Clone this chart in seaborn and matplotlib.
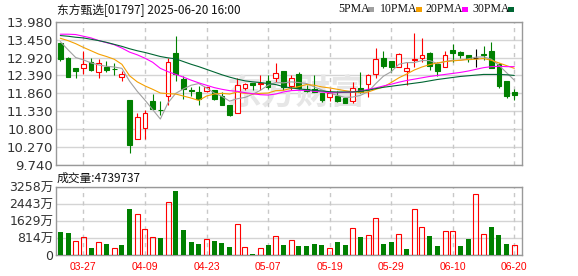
import matplotlib
matplotlib.use("Agg")
import matplotlib.pyplot as plt
from matplotlib.patches import Rectangle
import numpy as np
import pandas as pd
import seaborn as sns

# ---------------- data ----------------
opens = [13.34, 12.92, 12.60, 12.62, 12.78, 12.50, 12.65, 12.59, 12.33, 11.66,
         10.50, 10.83, 11.63, 11.38, 11.78, 13.04, 12.27, 11.95, 11.89, 11.93,
         11.96, 11.78, 11.53, 11.27, 12.01, 12.18, 12.14, 12.22, 12.30, 12.52,
         12.09, 12.43, 11.99, 11.99, 11.88, 11.76, 11.78, 11.73, 11.63, 12.01,
         12.14, 12.43, 12.92, 12.82, 12.65, 12.53, 12.85, 12.90, 13.04, 12.72,
         12.63, 13.14, 13.07, 12.99, 12.90, 13.01, 13.11, 12.72, 12.22, 11.91]
highs = [13.36, 12.93, 12.60, 13.11, 12.92, 12.88, 12.83, 12.75, 12.52, 11.66,
         11.27, 11.37, 11.84, 11.64, 12.92, 13.56, 12.38, 12.06, 12.08, 12.04,
         11.96, 11.91, 11.53, 12.30, 12.18, 12.18, 12.40, 12.40, 12.75, 12.52,
         12.40, 12.50, 12.11, 12.40, 11.88, 11.99, 11.93, 11.73, 12.20, 12.50,
         12.43, 13.19, 13.11, 12.82, 13.04, 12.78, 13.64, 13.49, 13.09, 12.80,
         13.11, 13.31, 13.11, 12.99, 13.17, 13.27, 13.39, 12.75, 12.22, 11.99]
lows = [12.83, 12.35, 12.30, 12.42, 12.52, 12.30, 12.49, 12.40, 12.24, 10.10,
        10.50, 10.52, 11.41, 11.22, 11.52, 12.24, 11.68, 11.78, 11.52, 11.91,
        11.66, 11.51, 11.19, 11.27, 11.96, 11.96, 11.96, 11.99, 12.20, 11.96,
        11.96, 11.98, 11.91, 11.89, 11.61, 11.64, 11.61, 11.58, 11.56, 11.86,
        11.74, 12.30, 12.60, 12.48, 12.63, 12.11, 12.65, 12.80, 12.55, 12.38,
        12.63, 12.80, 12.90, 12.78, 12.65, 12.85, 12.60, 12.03, 11.73, 11.66]
closes = [12.87, 12.35, 12.53, 12.72, 12.55, 12.75, 12.55, 12.58, 12.42, 10.34,
          11.17, 11.27, 11.41, 11.36, 12.78, 12.43, 11.99, 11.93, 11.69, 12.04,
          11.68, 11.53, 11.22, 12.10, 12.14, 12.12, 12.16, 12.04, 12.47, 12.04,
          12.30, 12.01, 11.93, 11.91, 11.66, 11.86, 11.64, 11.58, 12.01, 11.91,
          12.40, 12.87, 12.68, 12.65, 13.01, 12.62, 12.87, 12.99, 12.68, 12.53,
          12.99, 13.04, 13.00, 12.87, 12.90, 12.99, 12.62, 12.09, 11.79, 11.81]

ma5 = [13.39, 13.15, 12.92, 12.85, 12.76, 12.70, 12.66, 12.64, 12.60, 12.22,
       11.92, 11.66, 11.38, 11.10, 11.58, 11.86, 11.99, 12.10, 12.15, 12.02,
       11.87, 11.77, 11.63, 11.70, 11.74, 11.83, 11.95, 12.10, 12.18, 12.17,
       12.20, 12.18, 12.15, 12.05, 11.96, 11.87, 11.80, 11.74, 11.75, 11.80,
       11.91, 12.15, 12.37, 12.50, 12.72, 12.77, 12.77, 12.83, 12.83, 12.74,
       12.80, 12.84, 12.84, 12.88, 12.93, 12.94, 12.87, 12.69, 12.47, 12.25]
ma10 = [13.49, 13.42, 13.33, 13.22, 13.12, 13.02, 12.95, 12.87, 12.72, 12.38,
        12.20, 12.08, 11.98, 11.87, 11.85, 11.84, 11.78, 11.72, 11.65, 11.78,
        11.84, 11.86, 11.84, 11.90, 11.86, 11.84, 11.86, 11.87, 11.94, 11.95,
        12.01, 12.06, 12.12, 12.10, 12.05, 12.02, 11.98, 11.94, 11.90, 11.89,
        11.90, 11.98, 12.05, 12.18, 12.32, 12.43, 12.55, 12.64, 12.71, 12.76,
        12.80, 12.82, 12.84, 12.86, 12.87, 12.89, 12.84, 12.76, 12.68, 12.60]
ma20 = [13.61, 13.61, 13.60, 13.55, 13.50, 13.42, 13.36, 13.30, 13.20, 13.08,
        13.00, 12.90, 12.78, 12.60, 12.50, 12.42, 12.34, 12.25, 12.17, 12.10,
        12.03, 11.98, 11.94, 11.92, 11.88, 11.85, 11.82, 11.81, 11.84, 11.90,
        11.94, 11.95, 11.95, 11.92, 11.90, 11.88, 11.88, 11.89, 11.90, 11.93,
        11.98, 12.02, 12.08, 12.13, 12.19, 12.24, 12.28, 12.32, 12.36, 12.39,
        12.42, 12.45, 12.48, 12.52, 12.57, 12.62, 12.65, 12.66, 12.65, 12.65]
ma30 = [13.57, 13.55, 13.52, 13.50, 13.46, 13.42, 13.37, 13.31, 13.25, 13.18,
        13.12, 13.07, 13.01, 12.95, 12.91, 12.88, 12.80, 12.72, 12.65, 12.57,
        12.49, 12.41, 12.34, 12.28, 12.23, 12.20, 12.18, 12.15, 12.12, 12.06,
        12.02, 11.99, 11.97, 11.95, 11.93, 11.91, 11.90, 11.90, 11.90, 11.92,
        11.95, 12.00, 12.04, 12.07, 12.10, 12.13, 12.16, 12.19, 12.23, 12.27,
        12.30, 12.33, 12.36, 12.38, 12.40, 12.42, 12.42, 12.42, 12.41, 12.39]

volume_wan = [1081, 1034, 652, 843, 334, 604, 509, 318, 461, 2194,
              1940, 1224, 843, 811, 2512, 3053, 1193, 620, 525, 747,
              668, 572, 382, 1463, 366, 48, 318, 477, 890, 477,
              700, 429, 429, 525, 477, 334, 620, 477, 1288, 859,
              938, 1765, 525, 620, 986, 286, 2178, 1336, 906, 429,
              1129, 1129, 429, 763, 2894, 986, 1336, 954, 525, 474]

price_ticks = [9.74, 10.27, 10.80, 11.33, 11.86, 12.39, 12.92, 13.45, 13.98]
price_tick_labels = ["9.740", "10.270", "10.800", "11.330", "11.860",
                     "12.390", "12.920", "13.450", "13.980"]
vol_ticks = [0, 814, 1629, 2443, 3258]
vol_tick_labels = ["0", "814万", "1629万", "2443万", "3258万"]
date_idx = [3, 11, 19, 27, 35, 43, 51, 59]
date_labels = ["03-27", "04-09", "04-23", "05-07", "05-19", "05-29", "06-10", "06-20"]
ma_labels = ["5PMA", "10PMA", "20PMA", "30PMA"]
title_text = "东方甄选[01797] 2025-06-20 16:00"
volume_text = "成交量:4739737"
watermark_text = "东方财富"

# ---------------- style ----------------
sns.set_style("white")
plt.rcParams["font.family"] = ["DejaVu Sans", "Noto Sans CJK SC"]

RED = "#ff0000"
GREEN = "#008000"
MA_COLORS = ["#a0a0a0", "#f5a000", "#ff00ff", "#006633"]
GRID = "#d4d4d4"
SPINE = "#999999"
LW = 0.8

W, H = 578, 276
fig = plt.figure(figsize=(W / 100, H / 100), dpi=100)
ax = fig.add_axes([56 / W, 1 - 165 / H, 466 / W, 143.3 / H])
axv = fig.add_axes([56 / W, 1 - 255 / H, 466 / W, 68.3 / H])

n = len(closes)
xs = np.arange(n)
df = pd.DataFrame({"x": xs, "open": opens, "high": highs, "low": lows,
                   "close": closes, "vol": volume_wan,
                   "ma5": ma5, "ma10": ma10, "ma20": ma20, "ma30": ma30})
prev = df["close"].shift(1)
df["vol_up"] = (df["close"] > prev).fillna(False)

# ---------------- price panel ----------------
body_w = 0.62
for i, r in df.iterrows():
    if r["close"] > r["open"]:
        c, face = RED, "white"
    elif r["close"] < r["open"]:
        c, face = GREEN, GREEN
    else:
        c, face = "black", "black"
    ax.vlines(r["x"], r["low"], r["high"], color=c, lw=LW, zorder=3)
    lo = min(r["open"], r["close"])
    h = max(abs(r["close"] - r["open"]), 0.012)
    ax.bar(r["x"], h, bottom=lo, width=body_w, facecolor=face, edgecolor=c,
           lw=LW, zorder=4)

for col, c in zip(["ma5", "ma10", "ma20", "ma30"], MA_COLORS):
    sns.lineplot(data=df, x="x", y=col, color=c, lw=LW, ax=ax, zorder=5)

ax.set_xlim(-0.56, 60.0)
ax.set_ylim(9.74, 13.98)
ax.set_yticks(price_ticks)
ax.set_yticklabels(price_tick_labels)
ax.set_xticks([])
ax.set_xlabel("")
ax.set_ylabel("")
ax.set_axisbelow(True)
ax.yaxis.grid(True, color=GRID, lw=1)
for d in date_idx:
    ax.axvline(d, color="#c8c8c8", lw=1, ls=(0, (3, 3)), zorder=1)
ax.tick_params(axis="y", length=0, pad=2, labelsize=9.5, labelcolor="#333333")
for s in ax.spines.values():
    s.set_color(SPINE)
    s.set_linewidth(1)

ax.text(0.515, 0.5, watermark_text, transform=ax.transAxes, ha="center",
        va="center", fontsize=25, fontweight="bold", color="#e6e6e6",
        family=["Noto Sans CJK SC"], zorder=0.6)

# ---------------- volume panel ----------------
sns.barplot(data=df[~df["vol_up"]], x="x", y="vol", native_scale=True,
            color=GREEN, saturation=1, width=0.65, errorbar=None,
            linewidth=0, ax=axv, zorder=3)
sns.barplot(data=df[df["vol_up"]], x="x", y="vol", native_scale=True,
            color=RED, fill=False, width=0.65, errorbar=None,
            linewidth=LW, ax=axv, zorder=3)
axv.set_xlim(-0.56, 60.0)
axv.set_ylim(0, 3258)
axv.set_yticks(vol_ticks)
axv.set_yticklabels(vol_tick_labels)
axv.set_xticks(date_idx)
axv.set_xticklabels(date_labels, family=["Liberation Sans"])
axv.set_xlabel("")
axv.set_ylabel("")
axv.set_axisbelow(True)
axv.yaxis.grid(True, color=GRID, lw=1)
for d in date_idx:
    axv.axvline(d, color="#c8c8c8", lw=1, ls=(0, (3, 3)), zorder=1)
axv.tick_params(axis="y", length=0, pad=2, labelsize=9, labelcolor="#333333")
axv.tick_params(axis="x", length=0, pad=5, labelsize=7.5, labelcolor=RED)
for s in axv.spines.values():
    s.set_color(SPINE)
    s.set_linewidth(1)

# ---------------- header texts & legend ----------------
fig.text(57 / W, 1 - 9.5 / H, title_text, fontsize=8.5, va="center",
         family=["Noto Sans CJK SC"], color="#111111")
fig.text(57 / W, 1 - 178 / H, volume_text, fontsize=8.5, va="center",
         family=["Noto Sans CJK SC"], color="#111111")

leg_text_x = [338, 380, 425, 472]
leg_sq_x = [368, 416, 462, 508]
for lab, c, tx, sx in zip(ma_labels, MA_COLORS, leg_text_x, leg_sq_x):
    fig.text(tx / W, 1 - 9.5 / H, lab, fontsize=8.5, va="center",
             family=["Liberation Serif"], color="#111111")
    fig.patches.append(Rectangle((sx / W, 1 - 12 / H), 6 / W, 5 / H,
                                 transform=fig.transFigure, facecolor=c,
                                 edgecolor="none"))

fig.savefig("out.png", dpi=100)
